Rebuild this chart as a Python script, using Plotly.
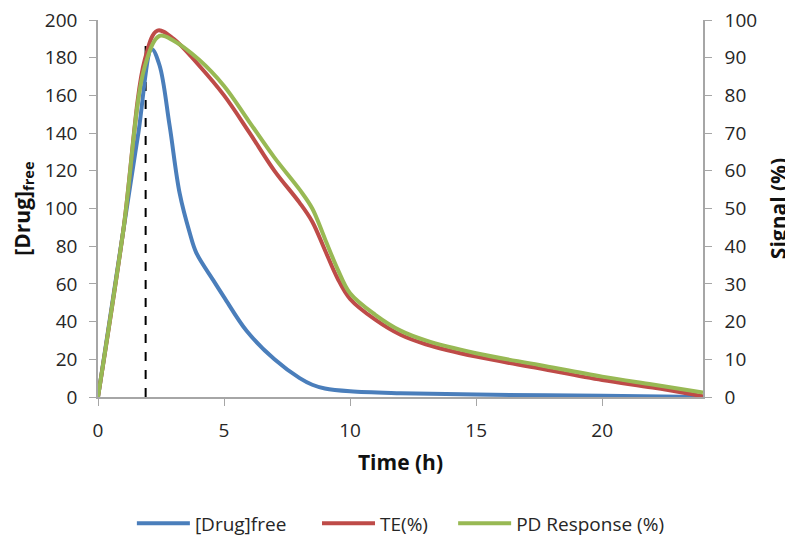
import plotly.graph_objects as go

# Time (h) and series values
t_drug = [0, 1, 1.6, 2.13, 2.44, 2.84, 3.24, 3.64, 3.9, 4.57, 5, 5.9, 7, 8, 8.5, 9, 10, 12, 15, 20, 24]
drug_free = [0, 88, 140, 184.5, 176, 144, 108, 87, 76.5, 62, 53, 35, 20, 10, 6.5, 4.5, 3, 2, 1.3, 0.6, 0]

t_sig = [0, 1, 1.86, 2.36, 3, 4, 5, 6, 7, 8, 8.5, 9, 9.5, 10, 11, 12, 13, 15, 17.5, 20, 22, 24]
te = [0, 44, 89.6, 97.2, 95, 88, 80, 70.2, 60, 51.5, 46.5, 39, 31.5, 26, 20.5, 16.5, 14, 10.7, 7.6, 4.5, 2.5, 0.2]
t_pd = [0, 1, 1.86, 2.44, 3, 4, 5, 6, 7, 8, 8.5, 9, 9.5, 10, 11, 12, 13, 15, 17.5, 20, 22, 24]
pd_resp = [0, 44, 87.8, 95.8, 94.5, 89.5, 82.5, 73, 63.5, 55, 50, 42, 34, 27.5, 21.8, 17.6, 15, 11.6, 8.5, 5.4, 3.3, 1.2]

tmax_x = [1.89, 1.89]
tmax_y = [0, 190.6]

x_ticks = [0, 5, 10, 15, 20]
y1_ticks = list(range(0, 201, 20))
y2_ticks = list(range(0, 101, 10))

font_family = "Open Sans, Liberation Sans, sans-serif"
axis_col = "#a6a6a6"
tick_font = dict(size=19, color="#262626")
title_font = dict(size=21, color="#111111")

fig = go.Figure()
fig.add_trace(go.Scatter(x=tmax_x, y=tmax_y, mode="lines", showlegend=False,
                         line=dict(color="black", width=2, dash="dash"), yaxis="y"))
fig.add_trace(go.Scatter(x=t_drug, y=drug_free, mode="lines", name="[Drug]free", legend="legend",
                         line=dict(color="#4a7ebb", width=4, shape="spline", smoothing=1.0), yaxis="y"))
fig.add_trace(go.Scatter(x=t_sig, y=te, mode="lines", name="TE(%)", legend="legend2",
                         line=dict(color="#be4b48", width=4, shape="spline", smoothing=1.0), yaxis="y2"))
fig.add_trace(go.Scatter(x=t_pd, y=pd_resp, mode="lines", name="PD Response (%)", legend="legend3",
                         line=dict(color="#98b954", width=4, shape="spline", smoothing=1.0), yaxis="y2"))

leg_common = dict(orientation="h", yref="container", y=0.04, yanchor="middle", xanchor="left",
                  font=dict(size=19, color="#262626"), itemwidth=53, bgcolor="rgba(0,0,0,0)")

fig.update_layout(
    width=793, height=537,
    margin=dict(l=90, r=98, t=12, b=148),
    paper_bgcolor="white", plot_bgcolor="white",
    font=dict(family=font_family, size=19, color="#262626"),
    xaxis=dict(range=[0, 24], tickvals=x_ticks, showgrid=False, zeroline=False, automargin=False,
               showline=True, linecolor=axis_col, linewidth=1.5, tickfont=tick_font,
               ticks="outside", tickcolor=axis_col, ticklen=7, ticklabelstandoff=8,
               ticklabeloverflow="allow",
               title=dict(text="<b>Time (h)</b>", font=title_font, standoff=14)),
    yaxis=dict(range=[0, 200], tickvals=y1_ticks, showgrid=False, zeroline=False, automargin=False,
               showline=True, linecolor=axis_col, linewidth=1.5, tickfont=tick_font,
               ticks="outside", tickcolor=axis_col, ticklen=7, ticklabelstandoff=8,
               ticklabeloverflow="allow",
               title=dict(text="<b>[Drug]<sub>free</sub></b>", font=title_font, standoff=28)),
    yaxis2=dict(range=[0, 100], tickvals=y2_ticks, overlaying="y", side="right", automargin=False,
                showgrid=False, zeroline=False, tickfont=tick_font,
                showline=True, linecolor=axis_col, linewidth=1.5,
                ticks="outside", tickcolor=axis_col, ticklen=7, ticklabelstandoff=9,
                ticklabeloverflow="allow",
                title=dict(text="<b>Signal (%)</b>", font=title_font, standoff=15)),
    legend=dict(x=0.056, **leg_common),
    legend2=dict(x=0.362, **leg_common),
    legend3=dict(x=0.587, **leg_common),
    showlegend=True,
)

fig.write_html("out.html")
